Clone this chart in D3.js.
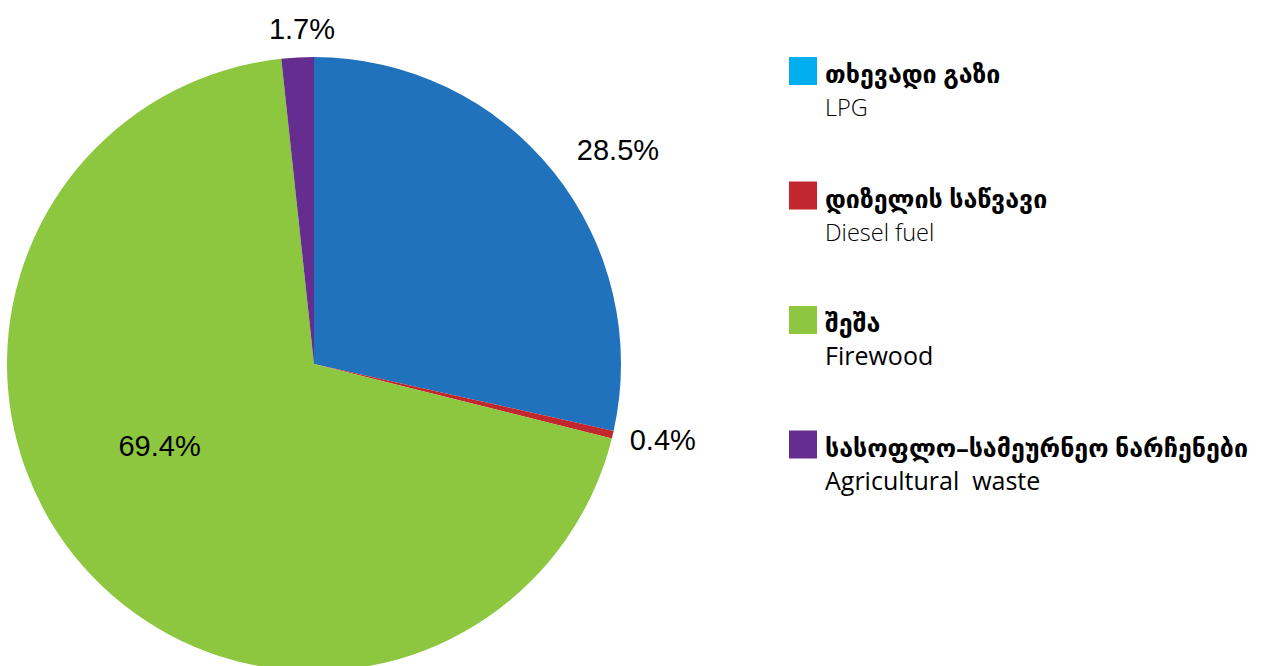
<!DOCTYPE html>
<html>
<head>
<meta charset="utf-8">
<script src="https://cdn.jsdelivr.net/npm/d3@7"></script>
<style>
  body { margin: 0; background: #fff; }
  svg { display: block; }
</style>
</head>
<body>
<div id="chart"></div>
<script>
// slice data, clockwise from 12 o'clock
var labelsKa = ['თხევადი გაზი', 'დიზელის საწვავი', 'შეშა', 'სასოფლო–სამეურნეო ნარჩენები'];
var labelsEn = ['LPG', 'Diesel fuel', 'Firewood', 'Agricultural  waste'];
var shares = [28.5, 0.4, 69.4, 1.7];
var sliceColors = ['#1f72bb', '#c1272d', '#8dc63f', '#662d91'];
var legendColors = ['#00aeef', '#c1272d', '#8dc63f', '#662d91'];

var width = 1263,
    height = 666,
    cx = 314,
    cy = 364,
    radius = 307;

// label placement: distance from centre and angle nudge (deg)
var labelRadius = [372, 357, 175, 335];
var labelNudge = [3.5, -1, 13, 1.0];
// english subtitle look per row (the source mixes two weights)
var enWeight = [300, 300, 400, 400];
var enSize = [23.5, 23.5, 25, 25];

var svg = d3.select('#chart')
    .append('svg')
    .attr('width', width)
    .attr('height', height);

var g = svg.append('g')
    .attr('transform', 'translate(' + cx + ',' + cy + ')');

var data = shares.map(function(v, i) {
    return { ka: labelsKa[i], en: labelsEn[i], value: v, i: i };
});

var pie = d3.pie()
    .value(function(d) { return d.value; })
    .sort(null);

var arc = d3.arc()
    .innerRadius(0)
    .outerRadius(radius);

var arcs = pie(data);

g.selectAll('path.slice')
    .data(arcs)
    .enter()
    .append('path')
    .attr('class', 'slice')
    .attr('d', arc)
    .attr('fill', function(d) { return sliceColors[d.data.i]; });

function labelAngle(d) {
    return (d.startAngle + d.endAngle) / 2 + labelNudge[d.data.i] * Math.PI / 180;
}

g.selectAll('text.pct')
    .data(arcs)
    .enter()
    .append('text')
    .attr('class', 'pct')
    .attr('x', function(d) { return labelRadius[d.data.i] * Math.sin(labelAngle(d)); })
    .attr('y', function(d) { return -labelRadius[d.data.i] * Math.cos(labelAngle(d)); })
    .attr('dy', '0.35em')
    .attr('text-anchor', 'middle')
    .style('font-family', '"Liberation Sans", Arial, sans-serif')
    .style('font-size', '29px')
    .style('fill', '#000')
    .text(function(d) { return d3.format('.1f')(d.data.value) + '%'; });

// legend
var legend = svg.selectAll('.legend')
    .data(data)
    .enter()
    .append('g')
    .attr('class', 'legend')
    .attr('transform', function(d, i) {
        return 'translate(789,' + (57 + i * 124.5) + ')';
    });

legend.append('rect')
    .attr('width', 28)
    .attr('height', 28)
    .attr('fill', function(d) { return legendColors[d.i]; });

legend.append('text')
    .attr('x', 36)
    .attr('y', 26)
    .style('font-family', '"Noto Sans", "DejaVu Sans", sans-serif')
    .style('font-weight', 'bold')
    .style('font-size', '25px')
    .style('fill', '#000')
    .text(function(d) { return d.ka; });

legend.append('text')
    .attr('x', 36)
    .attr('y', 59)
    .style('font-family', '"Open Sans", "Noto Sans", sans-serif')
    .style('font-weight', function(d) { return enWeight[d.i]; })
    .style('font-size', function(d) { return enSize[d.i] + 'px'; })
    .style('fill', '#000')
    .style('white-space', 'pre')
    .text(function(d) { return d.en; });
</script>
</body>
</html>
